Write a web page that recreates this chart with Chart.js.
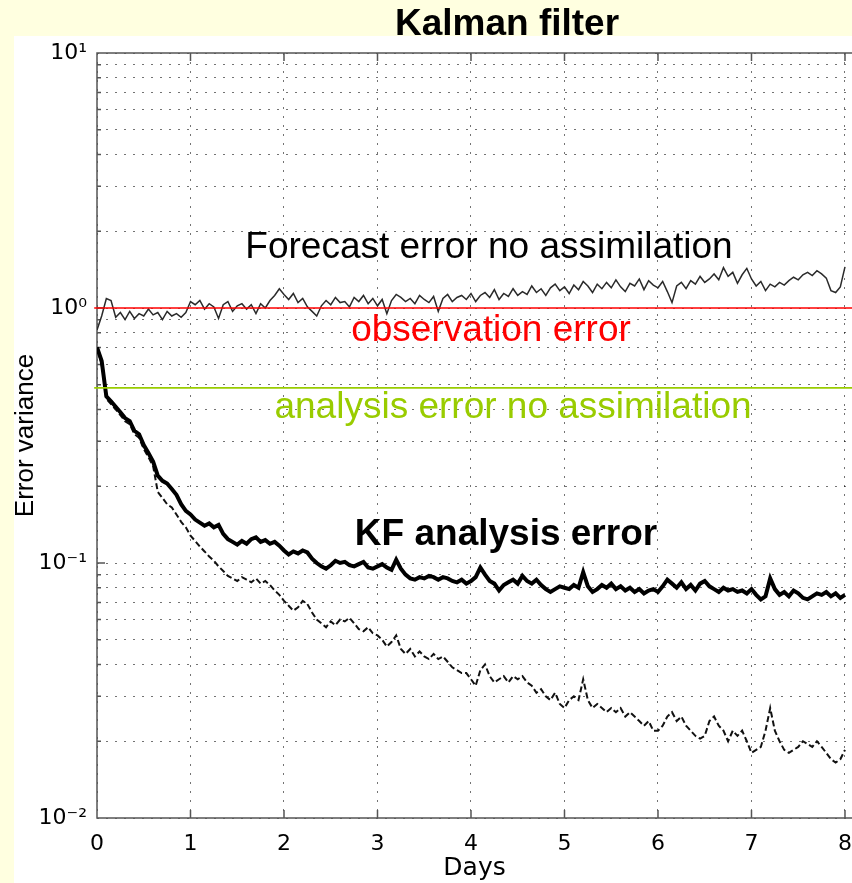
<!DOCTYPE html>
<html>
<head>
<meta charset="utf-8">
<script src="https://cdn.jsdelivr.net/npm/chart.js@4/dist/chart.umd.min.js"></script>
<style>
  html, body { margin: 0; padding: 0; background: #FFFFE0; }
  canvas { display: block; }
</style>
</head>
<body>
<canvas id="grafico" width="852" height="883"></canvas>
<script>
// ---------- dados ----------
const days = [
  0.00,0.05,0.10,0.15,0.20,0.25,0.30,0.35,0.40,0.45,0.50,0.55,0.60,0.65,0.70,0.75,0.80,0.85,0.90,0.95,
  1.00,1.05,1.10,1.15,1.20,1.25,1.30,1.35,1.40,1.45,1.50,1.55,1.60,1.65,1.70,1.75,1.80,1.85,1.90,1.95,
  2.00,2.05,2.10,2.15,2.20,2.25,2.30,2.35,2.40,2.45,2.50,2.55,2.60,2.65,2.70,2.75,2.80,2.85,2.90,2.95,
  3.00,3.05,3.10,3.15,3.20,3.25,3.30,3.35,3.40,3.45,3.50,3.55,3.60,3.65,3.70,3.75,3.80,3.85,3.90,3.95,
  4.00,4.05,4.10,4.15,4.20,4.25,4.30,4.35,4.40,4.45,4.50,4.55,4.60,4.65,4.70,4.75,4.80,4.85,4.90,4.95,
  5.00,5.05,5.10,5.15,5.20,5.25,5.30,5.35,5.40,5.45,5.50,5.55,5.60,5.65,5.70,5.75,5.80,5.85,5.90,5.95,
  6.00,6.05,6.10,6.15,6.20,6.25,6.30,6.35,6.40,6.45,6.50,6.55,6.60,6.65,6.70,6.75,6.80,6.85,6.90,6.95,
  7.00,7.05,7.10,7.15,7.20,7.25,7.30,7.35,7.40,7.45,7.50,7.55,7.60,7.65,7.70,7.75,7.80,7.85,7.90,7.95,
  8.00
];

const forecastError = [
  0.82,0.93,1.09,1.07,0.92,0.96,0.90,0.97,0.91,0.95,0.93,0.99,0.94,0.96,0.90,0.97,0.93,0.95,0.92,0.96,
  1.06,1.03,1.07,0.99,1.04,1.01,0.91,1.03,1.06,0.97,1.02,1.04,0.99,1.03,0.95,1.04,1.00,1.07,1.12,1.19,
  1.13,1.08,1.14,1.05,1.09,1.01,0.97,0.93,1.02,1.07,1.03,1.10,1.05,1.06,1.01,1.10,1.06,1.12,1.04,1.09,
  1.02,1.08,0.95,1.07,1.13,1.10,1.06,1.09,1.04,1.12,1.08,1.05,1.11,0.97,1.09,1.13,1.06,1.10,1.12,1.08,
  1.14,1.06,1.12,1.15,1.10,1.18,1.08,1.14,1.11,1.19,1.12,1.16,1.13,1.22,1.15,1.19,1.12,1.20,1.24,1.17,
  1.21,1.14,1.23,1.18,1.27,1.22,1.15,1.24,1.19,1.26,1.20,1.29,1.21,1.16,1.25,1.22,1.30,1.18,1.28,1.23,
  1.20,1.27,1.16,1.05,1.22,1.26,1.19,1.28,1.24,1.33,1.26,1.30,1.36,1.29,1.44,1.33,1.38,1.25,1.35,1.43,
  1.30,1.22,1.27,1.17,1.24,1.21,1.26,1.23,1.28,1.32,1.29,1.35,1.38,1.34,1.40,1.36,1.31,1.17,1.15,1.21,
  1.45
];

const kfAnalysisError = [
  0.70,0.62,0.45,0.43,0.41,0.39,0.37,0.36,0.33,0.32,0.29,0.27,0.25,0.22,0.21,0.205,0.195,0.185,0.17,0.16,
  0.155,0.148,0.144,0.140,0.143,0.138,0.141,0.130,0.124,0.121,0.118,0.122,0.119,0.124,0.126,0.121,0.123,0.119,0.121,0.117,
  0.112,0.108,0.111,0.109,0.112,0.110,0.104,0.100,0.097,0.095,0.098,0.102,0.100,0.101,0.098,0.097,0.099,0.101,0.096,0.095,
  0.097,0.099,0.096,0.094,0.103,0.095,0.090,0.087,0.086,0.088,0.087,0.089,0.088,0.086,0.088,0.087,0.085,0.084,0.086,0.083,
  0.085,0.088,0.096,0.090,0.085,0.083,0.078,0.082,0.084,0.086,0.083,0.089,0.085,0.083,0.086,0.082,0.079,0.077,0.079,0.081,
  0.080,0.079,0.082,0.080,0.092,0.081,0.077,0.079,0.082,0.080,0.083,0.079,0.081,0.078,0.080,0.077,0.079,0.076,0.078,0.079,
  0.077,0.081,0.086,0.083,0.080,0.084,0.079,0.082,0.078,0.083,0.085,0.081,0.079,0.077,0.080,0.078,0.079,0.077,0.078,0.076,
  0.079,0.075,0.072,0.074,0.087,0.079,0.075,0.077,0.074,0.078,0.076,0.073,0.072,0.074,0.076,0.075,0.077,0.074,0.076,0.073,
  0.075
];

const dashedError = [
  0.70,0.60,0.44,0.42,0.40,0.38,0.36,0.35,0.32,0.31,0.28,0.26,0.24,0.19,0.18,0.17,0.165,0.155,0.145,0.138,
  0.128,0.122,0.116,0.111,0.106,0.102,0.097,0.093,0.089,0.087,0.085,0.088,0.086,0.084,0.087,0.083,0.085,0.082,0.078,0.075,
  0.071,0.068,0.065,0.067,0.071,0.069,0.064,0.060,0.058,0.056,0.059,0.057,0.060,0.059,0.061,0.058,0.055,0.054,0.056,0.053,
  0.052,0.050,0.047,0.049,0.052,0.046,0.044,0.046,0.043,0.045,0.043,0.042,0.044,0.042,0.043,0.041,0.039,0.038,0.037,0.037,
  0.035,0.033,0.038,0.040,0.036,0.034,0.035,0.036,0.034,0.036,0.035,0.036,0.034,0.033,0.031,0.032,0.030,0.029,0.031,0.028,
  0.027,0.029,0.030,0.029,0.035,0.029,0.027,0.028,0.027,0.026,0.027,0.026,0.027,0.025,0.026,0.025,0.024,0.023,0.024,0.022,
  0.022,0.023,0.025,0.026,0.024,0.025,0.023,0.022,0.021,0.0205,0.021,0.024,0.025,0.023,0.022,0.020,0.022,0.021,0.022,0.020,
  0.018,0.0185,0.019,0.022,0.027,0.022,0.020,0.0185,0.018,0.0185,0.019,0.020,0.0195,0.019,0.020,0.019,0.018,0.017,0.0165,0.017,
  0.0185
];

const observationError = 1.0;
const analysisErrorNoAssim = 0.486;
const refLineDays = [-0.03, 8.075];

const xTicks = [0, 1, 2, 3, 4, 5, 6, 7, 8];
const yTicks = [
  0.01,0.02,0.03,0.04,0.05,0.06,0.07,0.08,0.09,
  0.1,0.2,0.3,0.4,0.5,0.6,0.7,0.8,0.9,
  1,2,3,4,5,6,7,8,9,10
];
const yTickLabels = [
  '10\u207B\u00B2','','','','','','','','',
  '10\u207B\u00B9','','','','','','','','',
  '10\u2070','','','','','','','','',
  '10\u00B9'
];

// ---------- helpers ----------
const toPoints = ys => ys.map((y, i) => ({ x: days[i], y }));
const refLine = v => refLineDays.map(x => ({ x, y: v }));
const axisFont = { family: "'DejaVu Sans', 'Liberation Sans', sans-serif", size: 22 };

// fundo amarelo + área branca da figura
const backgroundPlugin = {
  id: 'background',
  beforeDraw(chart) {
    const c = chart.ctx;
    c.save();
    c.fillStyle = '#FFFFE0';
    c.fillRect(0, 0, chart.width, chart.height);
    c.fillStyle = '#FFFFFF';
    c.fillRect(14, 36, chart.width - 14, chart.height - 36);
    c.restore();
  }
};

// eixos estilo matlab com ticks para dentro (a figura está cortada à direita)
const framePlugin = {
  id: 'frame',
  beforeDatasetsDraw(chart) {
    const { ctx: c, chartArea: a, scales } = chart;
    c.save();
    c.strokeStyle = '#555';
    c.lineWidth = 1.5;
    c.beginPath();
    c.moveTo(chart.width, a.top); c.lineTo(a.left, a.top);
    c.lineTo(a.left, a.bottom); c.lineTo(chart.width, a.bottom);
    scales.y.ticks.forEach((t, i) => {
      const py = scales.y.getPixelForValue(t.value);
      const len = yTickLabels[i] ? 8 : 4;
      c.moveTo(a.left, py); c.lineTo(a.left + len, py);
    });
    scales.x.ticks.forEach(t => {
      const px = scales.x.getPixelForValue(t.value);
      c.moveTo(px, a.bottom); c.lineTo(px, a.bottom - 8);
      c.moveTo(px, a.top); c.lineTo(px, a.top + 8);
    });
    c.stroke();
    c.restore();
  },
  afterDatasetsDraw(chart) {
    const c = chart.ctx;
    const texto = (t, x, y, cor, peso) => {
      c.font = `${peso} 37px 'Liberation Sans', Arial, sans-serif`;
      c.fillStyle = cor;
      c.textAlign = 'center';
      c.textBaseline = 'alphabetic';
      c.fillText(t, x, y);
    };
    c.save();
    texto('Kalman filter', 507, 35, '#000', 'bold');
    texto('Forecast error no assimilation', 489, 258, '#000', 'normal');
    texto('observation error', 491, 341, '#FF0000', 'normal');
    texto('analysis error no assimilation', 513, 418, '#99CC00', 'normal');
    texto('KF analysis error', 506, 545, '#000', 'bold');
    c.restore();
  }
};

// ---------- grafico ----------
document.addEventListener("DOMContentLoaded", () => {
  const ctx = document.getElementById('grafico').getContext('2d');
  new Chart(ctx, {
    type: 'line',
    data: {
      datasets: [
        { label: 'observation error', data: refLine(observationError), borderColor: '#FF0000', borderWidth: 1.6, pointRadius: 0, clip: false },
        { label: 'analysis error no assimilation', data: refLine(analysisErrorNoAssim), borderColor: '#99CC00', borderWidth: 1.6, pointRadius: 0, clip: false },
        { label: 'KF analysis error', data: toPoints(kfAnalysisError), borderColor: '#000', borderWidth: 4, pointRadius: 0, tension: 0 },
        { label: 'KF analysis error (dashed)', data: toPoints(dashedError), borderColor: '#111', borderWidth: 2, borderDash: [6, 3], pointRadius: 0, tension: 0 },
        { label: 'Forecast error no assimilation', data: toPoints(forecastError), borderColor: '#2a2a2a', borderWidth: 1.5, pointRadius: 0, tension: 0 }
      ]
    },
    options: {
      responsive: false,
      animation: false,
      layout: { padding: { left: 0, top: 53, right: 0, bottom: 0 } },
      plugins: { legend: { display: false }, tooltip: { enabled: false } },
      scales: {
        x: {
          type: 'linear', min: 0, max: 8.075,
          afterBuildTicks: s => { s.ticks = xTicks.map(v => ({ value: v })); },
          afterFit: s => { s.height = 65; s.paddingLeft = 0; s.paddingRight = 0; },
          grid: { color: 'rgba(0,0,0,0.55)', lineWidth: 1, drawTicks: false },
          border: { display: false, dash: [2, 7] },
          ticks: { font: axisFont, color: '#000', padding: 13, maxRotation: 0 },
          title: { display: true, text: 'Days', font: { ...axisFont, size: 25 }, color: '#000', padding: { top: 0, bottom: 0 } }
        },
        y: {
          type: 'logarithmic', min: 0.01, max: 10,
          afterBuildTicks: s => { s.ticks = yTicks.map(v => ({ value: v })); },
          afterFit: s => { s.width = 97; },
          grid: { color: 'rgba(0,0,0,0.55)', lineWidth: 1, drawTicks: false },
          border: { display: false, dash: [2, 7] },
          ticks: { font: axisFont, color: '#000', padding: 10, autoSkip: false,
                   callback: (v, i) => yTickLabels[i] },
          title: { display: true, text: 'Error variance', font: { family: "'Liberation Sans', Arial, sans-serif", size: 26 }, color: '#000', padding: { top: 10, bottom: 0 } }
        }
      }
    },
    plugins: [backgroundPlugin, framePlugin]
  });
});
</script>
</body>
</html>
